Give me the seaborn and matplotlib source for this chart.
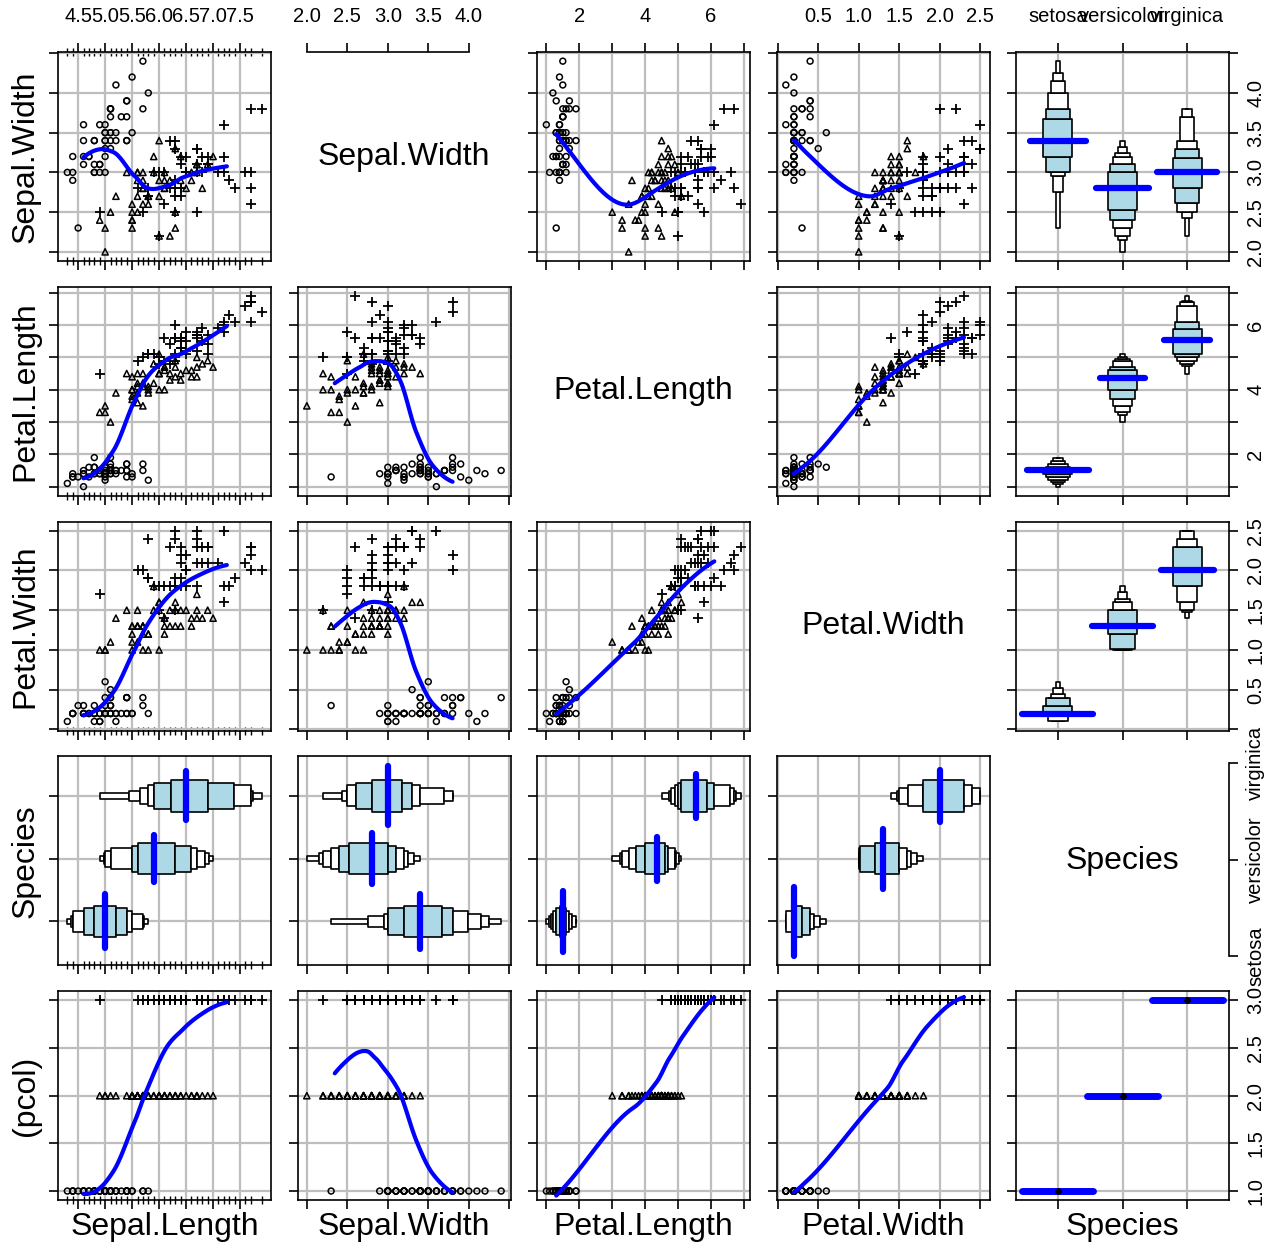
import numpy as np
import pandas as pd
import matplotlib
matplotlib.use('Agg')
import matplotlib.pyplot as plt
import seaborn as sns
from matplotlib.collections import PatchCollection
from matplotlib.ticker import FixedLocator

# iris data, one list per measurement (50 setosa, 50 versicolor, 50 virginica)
species_names = ['setosa', 'versicolor', 'virginica']
sepal_length = [5.1, 4.9, 4.7, 4.6, 5.0, 5.4, 4.6, 5.0, 4.4, 4.9, 5.4, 4.8, 4.8, 4.3, 5.8, 5.7, 5.4, 5.1, 5.7, 5.1,
                5.4, 5.1, 4.6, 5.1, 4.8, 5.0, 5.0, 5.2, 5.2, 4.7, 4.8, 5.4, 5.2, 5.5, 4.9, 5.0, 5.5, 4.9, 4.4, 5.1,
                5.0, 4.5, 4.4, 5.0, 5.1, 4.8, 5.1, 4.6, 5.3, 5.0,
                7.0, 6.4, 6.9, 5.5, 6.5, 5.7, 6.3, 4.9, 6.6, 5.2, 5.0, 5.9, 6.0, 6.1, 5.6, 6.7, 5.6, 5.8, 6.2, 5.6,
                5.9, 6.1, 6.3, 6.1, 6.4, 6.6, 6.8, 6.7, 6.0, 5.7, 5.5, 5.5, 5.8, 6.0, 5.4, 6.0, 6.7, 6.3, 5.6, 5.5,
                5.5, 6.1, 5.8, 5.0, 5.6, 5.7, 5.7, 6.2, 5.1, 5.7,
                6.3, 5.8, 7.1, 6.3, 6.5, 7.6, 4.9, 7.3, 6.7, 7.2, 6.5, 6.4, 6.8, 5.7, 5.8, 6.4, 6.5, 7.7, 7.7, 6.0,
                6.9, 5.6, 7.7, 6.3, 6.7, 7.2, 6.2, 6.1, 6.4, 7.2, 7.4, 7.9, 6.4, 6.3, 6.1, 7.7, 6.3, 6.4, 6.0, 6.9,
                6.7, 6.9, 5.8, 6.8, 6.7, 6.7, 6.3, 6.5, 6.2, 5.9]
sepal_width = [3.5, 3.0, 3.2, 3.1, 3.6, 3.9, 3.4, 3.4, 2.9, 3.1, 3.7, 3.4, 3.0, 3.0, 4.0, 4.4, 3.9, 3.5, 3.8, 3.8,
               3.4, 3.7, 3.6, 3.3, 3.4, 3.0, 3.4, 3.5, 3.4, 3.2, 3.1, 3.4, 4.1, 4.2, 3.1, 3.2, 3.5, 3.6, 3.0, 3.4,
               3.5, 2.3, 3.2, 3.5, 3.8, 3.0, 3.8, 3.2, 3.7, 3.3,
               3.2, 3.2, 3.1, 2.3, 2.8, 2.8, 3.3, 2.4, 2.9, 2.7, 2.0, 3.0, 2.2, 2.9, 2.9, 3.1, 3.0, 2.7, 2.2, 2.5,
               3.2, 2.8, 2.5, 2.8, 2.9, 3.0, 2.8, 3.0, 2.9, 2.6, 2.4, 2.4, 2.7, 2.7, 3.0, 3.4, 3.1, 2.3, 3.0, 2.5,
               2.6, 3.0, 2.6, 2.3, 2.7, 3.0, 2.9, 2.9, 2.5, 2.8,
               3.3, 2.7, 3.0, 2.9, 3.0, 3.0, 2.5, 2.9, 2.5, 3.6, 3.2, 2.7, 3.0, 2.5, 2.8, 3.2, 3.0, 3.8, 2.6, 2.2,
               3.2, 2.8, 2.8, 2.7, 3.3, 3.2, 2.8, 3.0, 2.8, 3.0, 2.8, 3.8, 2.8, 2.8, 2.6, 3.0, 3.4, 3.1, 3.0, 3.1,
               3.1, 3.1, 2.7, 3.2, 3.3, 3.0, 2.5, 3.0, 3.4, 3.0]
petal_length = [1.4, 1.4, 1.3, 1.5, 1.4, 1.7, 1.4, 1.5, 1.4, 1.5, 1.5, 1.6, 1.4, 1.1, 1.2, 1.5, 1.3, 1.4, 1.7, 1.5,
                1.7, 1.5, 1.0, 1.7, 1.9, 1.6, 1.6, 1.5, 1.4, 1.6, 1.6, 1.5, 1.5, 1.4, 1.5, 1.2, 1.3, 1.4, 1.3, 1.5,
                1.3, 1.3, 1.3, 1.6, 1.9, 1.4, 1.6, 1.4, 1.5, 1.4,
                4.7, 4.5, 4.9, 4.0, 4.6, 4.5, 4.7, 3.3, 4.6, 3.9, 3.5, 4.2, 4.0, 4.7, 3.6, 4.4, 4.5, 4.1, 4.5, 3.9,
                4.8, 4.0, 4.9, 4.7, 4.3, 4.4, 4.8, 5.0, 4.5, 3.5, 3.8, 3.7, 3.9, 5.1, 4.5, 4.5, 4.7, 4.4, 4.1, 4.0,
                4.4, 4.6, 4.0, 3.3, 4.2, 4.2, 4.2, 4.3, 3.0, 4.1,
                6.0, 5.1, 5.9, 5.6, 5.8, 6.6, 4.5, 6.3, 5.8, 6.1, 5.1, 5.3, 5.5, 5.0, 5.1, 5.3, 5.5, 6.7, 6.9, 5.0,
                5.7, 4.9, 6.7, 4.9, 5.7, 6.0, 4.8, 4.9, 5.6, 5.8, 6.1, 6.4, 5.6, 5.1, 5.6, 6.1, 5.6, 5.5, 4.8, 5.4,
                5.6, 5.1, 5.1, 5.9, 5.7, 5.2, 5.0, 5.2, 5.4, 5.1]
petal_width = [0.2, 0.2, 0.2, 0.2, 0.2, 0.4, 0.3, 0.2, 0.2, 0.1, 0.2, 0.2, 0.1, 0.1, 0.2, 0.4, 0.4, 0.3, 0.3, 0.3,
               0.2, 0.4, 0.2, 0.5, 0.2, 0.2, 0.4, 0.2, 0.2, 0.2, 0.2, 0.4, 0.1, 0.2, 0.2, 0.2, 0.2, 0.1, 0.2, 0.2,
               0.3, 0.3, 0.2, 0.6, 0.4, 0.3, 0.2, 0.2, 0.2, 0.2,
               1.4, 1.5, 1.5, 1.3, 1.5, 1.3, 1.6, 1.0, 1.3, 1.4, 1.0, 1.5, 1.0, 1.4, 1.3, 1.4, 1.5, 1.0, 1.5, 1.1,
               1.8, 1.3, 1.5, 1.2, 1.3, 1.4, 1.4, 1.7, 1.5, 1.0, 1.1, 1.0, 1.2, 1.6, 1.5, 1.6, 1.5, 1.3, 1.3, 1.3,
               1.2, 1.4, 1.2, 1.0, 1.3, 1.2, 1.3, 1.3, 1.1, 1.3,
               2.5, 1.9, 2.1, 1.8, 2.2, 2.1, 1.7, 1.8, 1.8, 2.5, 2.0, 1.9, 2.1, 2.0, 2.4, 2.3, 1.8, 2.2, 2.3, 1.5,
               2.3, 2.0, 2.0, 1.8, 2.1, 1.8, 1.8, 1.8, 2.1, 1.6, 1.9, 2.0, 2.2, 1.5, 1.4, 2.3, 2.4, 1.8, 1.8, 2.1,
               2.4, 2.3, 1.9, 2.3, 2.5, 2.3, 1.9, 2.0, 2.3, 1.8]
species = [s for s in species_names for _ in range(50)]
pcol = [species_names.index(s) + 1 for s in species]

col_vars = ['Sepal.Length', 'Sepal.Width', 'Petal.Length', 'Petal.Width', 'Species']
row_vars = ['Sepal.Width', 'Petal.Length', 'Petal.Width', 'Species', '(pcol)']

tick_pos = {'Sepal.Length': [4.5, 5.0, 5.5, 6.0, 6.5, 7.0, 7.5],
            'Sepal.Width': [2.0, 2.5, 3.0, 3.5, 4.0, 4.5],
            'Petal.Length': [1, 2, 3, 4, 5, 6, 7],
            'Petal.Width': [0.0, 0.5, 1.0, 1.5, 2.0, 2.5],
            '(pcol)': [1.0, 1.5, 2.0, 2.5, 3.0]}
tick_lab = {'Sepal.Length': ['4.5', '5.0', '5.5', '6.0', '6.5', '7.0', '7.5'],
            'Sepal.Width': ['2.0', '2.5', '3.0', '3.5', '4.0', ''],
            'Petal.Length': ['', '2', '', '4', '', '6', ''],
            'Petal.Width': ['', '0.5', '1.0', '1.5', '2.0', '2.5'],
            '(pcol)': ['1.0', '1.5', '2.0', '2.5', '3.0']}

df = pd.DataFrame({'Sepal.Length': sepal_length, 'Sepal.Width': sepal_width,
                   'Petal.Length': petal_length, 'Petal.Width': petal_width,
                   'Species': species, '(pcol)': pcol})

sns.set_theme(style='white')
plt.rcParams['font.family'] = ['Liberation Sans', 'DejaVu Sans']
plt.rcParams['text.color'] = 'black'
plt.rcParams['axes.labelcolor'] = 'black'
plt.rcParams['xtick.color'] = 'black'
plt.rcParams['ytick.color'] = 'black'

GRID = '#bebebe'
BLUE = '#0000ff'
TICK_FS = 14.5
LAB_FS = 23
marker_style = {'setosa': ('o', 18), 'versicolor': ('^', 20), 'virginica': ('+', 45)}


def local_quad(x, y, rw, g, q):
    # value and slope of a tricube-weighted quadratic centred at g
    d = np.abs(x - g)
    h = np.sort(d)[q - 1]
    w = (1 - np.clip(d / h, 0, 1) ** 3) ** 3 * rw
    X = np.column_stack([np.ones_like(x), x - g, (x - g) ** 2])
    sw = np.sqrt(w)
    beta = np.linalg.lstsq(X * sw[:, None], y * sw, rcond=None)[0]
    return beta[0], beta[1]


def hermite(verts, vf, pts):
    pts = np.asarray(pts, float)
    i = np.clip(np.searchsorted(verts, pts) - 1, 0, len(verts) - 2)
    h = verts[i + 1] - verts[i]
    t = (pts - verts[i]) / h
    f0, s0 = vf[i, 0], vf[i, 1]
    f1, s1 = vf[i + 1, 0], vf[i + 1, 1]
    return ((2 * t ** 3 - 3 * t ** 2 + 1) * f0 + (t ** 3 - 2 * t ** 2 + t) * h * s0
            + (-2 * t ** 3 + 3 * t ** 2) * f1 + (t ** 3 - t ** 2) * h * s1)


def loess(x, y, grid, span=0.75, iters=4, cell=0.2):
    # loess(degree=2, family="symmetric"): fits at cell vertices, cubic interpolation between
    x = np.asarray(x, float)
    y = np.asarray(y, float)
    n = len(x)
    q = int(np.floor(n * span))
    fc = int(np.floor(n * span * cell))
    xs = np.sort(x)
    mu = 0.005 * (xs[-1] - xs[0])
    verts = [xs[0] - mu, xs[-1] + mu]

    def split(lo, hi):
        if hi - lo + 1 <= fc:
            return
        m = (lo + hi) // 2
        cands = [j for j in range(lo, hi) if xs[j] != xs[j + 1]]
        if not cands:
            return
        j = min(cands, key=lambda k: abs(k - m))
        verts.append(0.5 * (xs[j] + xs[j + 1]))
        split(lo, j)
        split(j + 1, hi)

    split(0, n - 1)
    verts = np.array(sorted(verts))
    rw = np.ones(n)
    for it in range(iters):
        vf = np.array([local_quad(x, y, rw, v, q) for v in verts])
        if it == iters - 1:
            break
        res = y - hermite(verts, vf, x)
        s = 6 * np.median(np.abs(res))
        if s < 1e-9:
            break
        u = np.abs(res) / s
        rw = np.where(u < 1, (1 - u ** 2) ** 2, 0.0)
    return hermite(verts, vf, grid)


def num_lim(v):
    lo, hi = df[v].min(), df[v].max()
    pad = 0.048 * (hi - lo)
    return lo - pad, hi + pad


def median_half(vals, med):
    n = int(np.sum(np.isclose(vals, med)))
    return min(0.35 + 0.01 * n, 0.55)


def recolor_boxes(ax, vertical, groups):
    # inner letter values light blue, outer ones white
    for coll in ax.collections:
        if isinstance(coll, PatchCollection):
            fcs = []
            for p in coll.get_paths():
                v = p.vertices
                cat = v[:, 0] if vertical else v[:, 1]
                val = v[:, 1] if vertical else v[:, 0]
                m = np.nanmean(cat) if np.isfinite(cat).any() else 0
                gi = int(np.clip(np.round(m), 0, len(groups) - 1))
                lo_q, hi_q = np.percentile(groups[gi], [12.5, 87.5])
                inner = np.nanmin(val) >= lo_q - 1e-9 and np.nanmax(val) <= hi_q + 1e-9
                fcs.append('lightblue' if inner else 'white')
            coll.set_array(None)
            coll.set_facecolor(fcs)
            coll.set_edgecolor('black')


fig = plt.figure(figsize=(12.76, 12.46), dpi=100)
W, H = 1276.0, 1246.0
left0, pitch_x, pw = 58, 239.5, 213
top0, pitch_y, ph = 52, 234.8, 209

for r, rv in enumerate(row_vars):
    for c, cv in enumerate(col_vars):
        x0 = left0 + c * pitch_x
        y0 = top0 + r * pitch_y
        ax = fig.add_axes([x0 / W, 1 - (y0 + ph) / H, pw / W, ph / H])

        if rv == cv:
            # diagonal: variable name, plus an axis when it sits on the outer edge
            ax.text(0.5, 0.5, rv, transform=ax.transAxes, ha='center', va='center', fontsize=LAB_FS)
            for s in ax.spines.values():
                s.set_visible(False)
            ax.set_xticks([])
            ax.set_yticks([])
            if r == 0:
                ax.set_xlim(num_lim(cv))
                ax.set_ylim(0, 1)
                ax.spines['top'].set_visible(True)
                ax.spines['top'].set_color('black')
                ax.spines['top'].set_linewidth(1.2)
                ax.spines['top'].set_bounds(2.0, 4.0)
                ax.set_xticks([2.0, 2.5, 3.0, 3.5, 4.0])
                ax.set_xticklabels(['2.0', '2.5', '3.0', '3.5', '4.0'])
                ax.tick_params(axis='x', direction='out', length=6.5, width=1.2, color='black',
                               top=True, bottom=False, labeltop=True, labelbottom=False,
                               labelsize=TICK_FS, pad=12)
            if c == 4:
                ax.set_xlim(0, 1)
                ax.set_ylim(-0.093, 2.072)
                ax.spines['right'].set_visible(True)
                ax.spines['right'].set_color('black')
                ax.spines['right'].set_linewidth(1.2)
                ax.spines['right'].set_bounds(0, 2)
                ax.set_yticks([0, 1, 2])
                ax.set_yticklabels(species_names)
                ax.tick_params(axis='y', direction='out', length=6.5, width=1.2, color='black',
                               right=True, left=False, labelright=True, labelleft=False,
                               labelsize=TICK_FS, pad=6, labelrotation=90)
                for t in ax.get_yticklabels():
                    t.set_va('center')
            continue

        ax.set_axisbelow(True)
        if rv == 'Species':
            order = species_names[::-1]
            sns.boxenplot(data=df, x=cv, y='Species', order=order, orient='h', ax=ax,
                          width=0.5, k_depth='full', width_method='linear', color='lightblue',
                          linecolor='black', linewidth=1.2, line_kws=dict(linewidth=0),
                          flier_kws=dict(s=5, color='black'))
            recolor_boxes(ax, False, [df.loc[df['Species'] == sp, cv].values for sp in order])
            for i, sp in enumerate(order):
                vals = df.loc[df['Species'] == sp, cv].values
                med = np.median(vals)
                hw = median_half(vals, med)
                ax.plot([med, med], [i - hw, i + hw], color=BLUE, lw=4.5,
                        solid_capstyle='round', zorder=5)
        elif cv == 'Species' and rv == '(pcol)':
            for i, sp in enumerate(species_names):
                vals = df.loc[df['Species'] == sp, rv].values
                med = np.median(vals)
                hw = median_half(vals, med)
                ax.plot([i - hw, i + hw], [med, med], color=BLUE, lw=5,
                        solid_capstyle='round', zorder=4)
            codes = [species_names.index(s) for s in df['Species']]
            ax.scatter(codes, df[rv], s=8, color='black', zorder=5)
        elif cv == 'Species':
            sns.boxenplot(data=df, x='Species', y=rv, order=species_names, orient='v', ax=ax,
                          width=0.45, k_depth='full', width_method='linear', color='lightblue',
                          linecolor='black', linewidth=1.2, line_kws=dict(linewidth=0),
                          flier_kws=dict(s=5, color='black'))
            recolor_boxes(ax, True, [df.loc[df['Species'] == sp, rv].values for sp in species_names])
            for i, sp in enumerate(species_names):
                vals = df.loc[df['Species'] == sp, rv].values
                med = np.median(vals)
                hw = median_half(vals, med)
                ax.plot([i - hw, i + hw], [med, med], color=BLUE, lw=4.5,
                        solid_capstyle='round', zorder=5)
        else:
            for sp in species_names:
                sub = df[df['Species'] == sp]
                mk, sz = marker_style[sp]
                if mk == '+':
                    ax.scatter(sub[cv], sub[rv], marker=mk, s=sz, color='black', linewidths=1.3, zorder=3)
                else:
                    ax.scatter(sub[cv], sub[rv], marker=mk, s=sz, facecolors='none',
                               edgecolors='black', linewidths=1.1, zorder=3)
            lo, hi = np.quantile(df[cv], [0.05, 0.95])
            grid = np.linspace(lo, hi, 100)
            fit = loess(df[cv], df[rv], grid)
            ax.plot(grid, fit, color=BLUE, lw=3, zorder=4)

        # limits and ticks
        if cv == 'Species':
            ax.set_xlim(-0.65, 2.65)
            ax.set_xticks([0, 1, 2])
            ax.set_xticklabels(species_names)
        else:
            ax.set_xlim(num_lim(cv))
            ax.set_xticks(tick_pos[cv])
            ax.set_xticklabels(tick_lab[cv])
        if rv == 'Species':
            ax.set_ylim(2.70, -0.63)
            ax.set_yticks([0, 1, 2])
            ax.set_yticklabels(species_names[::-1])
        else:
            ax.set_ylim(num_lim(rv))
            ax.set_yticks(tick_pos[rv])
            ax.set_yticklabels(tick_lab[rv])

        ax.set_xlabel('')
        ax.set_ylabel('')
        ax.grid(True, which='major', color=GRID, lw=1.6)
        for s in ax.spines.values():
            s.set_visible(True)
            s.set_color('black')
            s.set_linewidth(1.2)
        ax.tick_params(which='major', direction='out', length=6.5, width=1.2, color='black',
                       left=True, bottom=True, top=(r == 0), right=(c == 4),
                       labelleft=False, labelbottom=False, labeltop=(r == 0), labelright=(c == 4),
                       labelsize=TICK_FS)
        ax.tick_params(axis='x', pad=12)
        ax.tick_params(axis='y', pad=6)
        if c == 4:
            ax.tick_params(axis='y', labelrotation=90)
            for t in ax.get_yticklabels():
                t.set_va('center')

        # rug of the Sepal.Length values along the first column
        if cv == 'Sepal.Length':
            ax.xaxis.set_minor_locator(FixedLocator(np.unique(df[cv])))
            ax.tick_params(axis='x', which='minor', direction='inout', length=6, width=1,
                           color='black', bottom=True, top=(r == 0))

        if c == 0:
            ax.set_ylabel(rv, fontsize=LAB_FS, labelpad=6)
        if r == len(row_vars) - 1:
            ax.set_xlabel(cv, fontsize=LAB_FS, labelpad=2)

fig.savefig('out.png', dpi=100)
